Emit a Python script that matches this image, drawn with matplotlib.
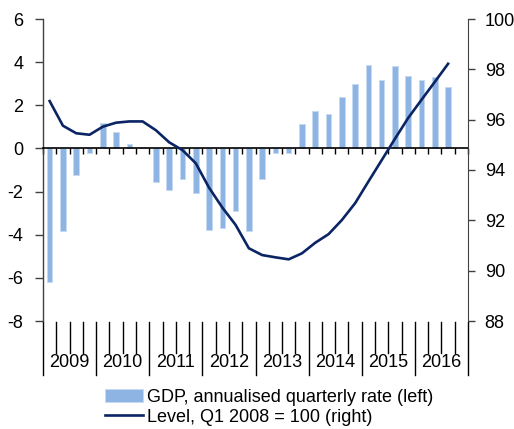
import numpy as np
import matplotlib
matplotlib.use('Agg')
import matplotlib.pyplot as plt

plt.rcParams['font.family'] = ['Liberation Sans', 'DejaVu Sans']
plt.rcParams['font.size'] = 13
plt.rcParams['axes.unicode_minus'] = False

# quarterly data, Q1 2009 .. Q3 2016
years = ['2009', '2010', '2011', '2012', '2013', '2014', '2015', '2016']
gdp = [-6.2, -3.83, -1.22, -0.2, 1.19, 0.77, 0.19, 0.08,
       -1.57, -1.93, -1.40, -2.05, -3.77, -3.71, -2.88, -3.83,
       -1.40, -0.23, -0.23, 1.14, 1.73, 1.61, 2.38, 2.97,
       3.86, 3.15, 3.80, 3.38, 3.15, 3.32, 2.86]
level = [96.74, 95.76, 95.46, 95.40, 95.72, 95.88, 95.93, 95.93,
         95.58, 95.10, 94.79, 94.27, 93.30, 92.51, 91.82, 90.89,
         90.62, 90.53, 90.45, 90.69, 91.11, 91.45, 92.01, 92.68,
         93.54, 94.39, 95.24, 96.07, 96.79, 97.50, 98.22]

bar_color = '#8DB4E2'
line_color = '#0B2463'
n_slots = 4 * len(years)
x = np.arange(len(gdp))

fig = plt.figure(figsize=(5.14, 4.29), dpi=100)
ax = fig.add_axes([43/514, 1 - 321/429, 425/514, 302/429])
ax2 = ax.twinx()

bars = ax.bar(x, gdp, width=0.42, color=bar_color, edgecolor='#C6D9F1',
              linewidth=0.6, label='GDP, annualised quarterly rate (left)')
ln, = ax2.plot(x, level, color=line_color, lw=1.9,
               label='Level, Q1 2008 = 100 (right)')

ax.set_xlim(-0.5, n_slots - 0.5)
ax.set_ylim(-8, 6)
ax.set_yticks(np.arange(-8, 7, 2))
ax2.set_ylim(88, 100)
ax2.set_yticks(np.arange(88, 101, 2))

# zero line with quarter ticks
ax.spines['bottom'].set_position(('data', 0))
ax.spines['bottom'].set_linewidth(1.2)
ax.spines['top'].set_visible(False)
ax.spines['right'].set_visible(False)
ax.spines['left'].set_linewidth(1.0)
ax.spines['left'].set_color('#404040')
ax.set_xticks(np.arange(-0.5, n_slots, 1))
ax.tick_params(axis='x', length=4, width=1, direction='out', labelbottom=False)
ax.tick_params(axis='y', length=6, width=1, pad=8, color='#404040')

for s in ['top', 'bottom', 'left']:
    ax2.spines[s].set_visible(False)
ax2.spines['right'].set_color('#404040')
ax2.tick_params(axis='y', length=5, width=1, pad=7, color='#404040')

# category axis below the plot
tr = ax.get_xaxis_transform()
for k in range(n_slots + 1):
    xb = k - 0.5
    y1 = -0.179 if k % 4 == 0 else -0.106
    ax.plot([xb, xb], [-0.004, y1], transform=tr, clip_on=False,
            color='black', lw=1)
for j, yr in enumerate(years):
    ax.text(4 * j + 1.5, -0.139, yr, transform=tr, ha='center', va='center')

fig.legend([bars, ln], [bars.get_label(), ln.get_label()],
           loc='upper left', bbox_to_anchor=(105/514, 1 - 389/429),
           frameon=False, borderpad=0, borderaxespad=0,
           handlelength=2.1, handletextpad=0.2, labelspacing=0.15)

fig.savefig('out.png', dpi=100)
